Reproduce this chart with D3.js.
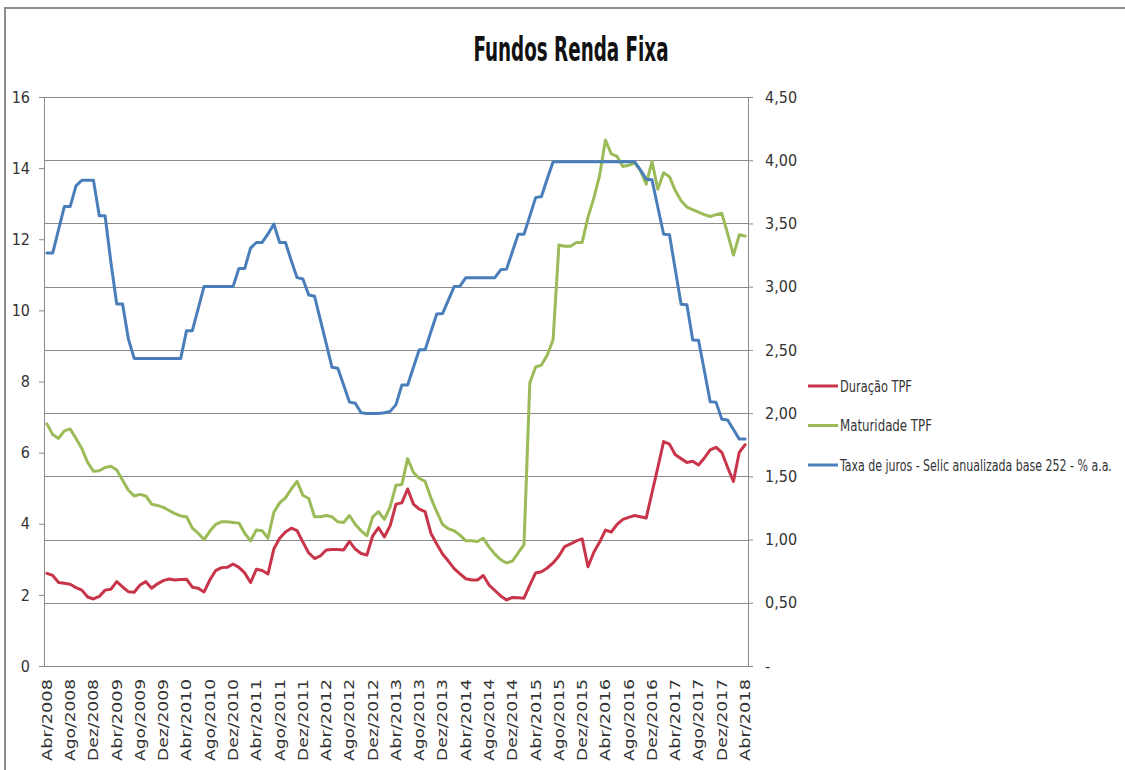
<!DOCTYPE html>
<html>
<head>
<meta charset="utf-8">
<script src="https://cdn.jsdelivr.net/npm/d3@7"></script>
<style>
  body { margin: 0; background: #fff; }
  svg { display: block; }
</style>
</head>
<body>
<svg id="chart" width="1125" height="770"></svg>
<script>
// Fundos Renda Fixa - valores mensais Abr/2008 .. Abr/2018

const monthNames = ["Jan", "Fev", "Mar", "Abr", "Mai", "Jun", "Jul", "Ago", "Set", "Out", "Nov", "Dez"];
const startYear = 2008, startMonth = 3, nMonths = 121;

// Taxa de juros - Selic anualizada base 252 (eixo esquerdo, % a.a.)
const selic = [
  11.61, 11.61, 12.27, 12.92, 12.92, 13.50, 13.66, 13.66, 13.66, 12.66,
  12.66, 11.35, 10.18, 10.18, 9.20, 8.65, 8.65, 8.65, 8.65, 8.65,
  8.65, 8.65, 8.65, 8.65, 9.43, 9.43, 10.05, 10.67, 10.67, 10.67,
  10.67, 10.67, 10.67, 11.18, 11.18, 11.75, 11.91, 11.91, 12.15, 12.43,
  11.91, 11.91, 11.40, 10.92, 10.88, 10.43, 10.40, 9.73, 9.07, 8.40,
  8.37, 7.90, 7.42, 7.39, 7.12, 7.10, 7.10, 7.10, 7.12, 7.16,
  7.35, 7.90, 7.90, 8.40, 8.89, 8.89, 9.40, 9.90, 9.91, 10.29,
  10.67, 10.68, 10.92, 10.92, 10.92, 10.92, 10.92, 10.92, 11.14, 11.16,
  11.65, 12.14, 12.14, 12.65, 13.17, 13.20, 13.70, 14.18, 14.18, 14.18,
  14.18, 14.18, 14.18, 14.18, 14.18, 14.18, 14.18, 14.18, 14.18, 14.18,
  14.18, 14.18, 13.95, 13.69, 13.67, 12.90, 12.14, 12.13, 11.15, 10.17,
  10.16, 9.17, 9.16, 8.30, 7.43, 7.42, 6.94, 6.92, 6.65, 6.38,
  6.38
];

// Maturidade TPF (eixo direito)
const maturidade = [
  1.915, 1.83, 1.80, 1.86, 1.875, 1.80, 1.72, 1.61, 1.54, 1.545,
  1.57, 1.58, 1.55, 1.47, 1.39, 1.345, 1.357, 1.345, 1.28, 1.27,
  1.255, 1.23, 1.205, 1.187, 1.18, 1.09, 1.05, 1.00, 1.065, 1.12,
  1.14, 1.14, 1.135, 1.13, 1.05, 0.99, 1.075, 1.07, 1.01, 1.215,
  1.29, 1.33, 1.40, 1.46, 1.35, 1.325, 1.18, 1.18, 1.19, 1.18,
  1.14, 1.135, 1.19, 1.12, 1.07, 1.03, 1.18, 1.22, 1.16, 1.26,
  1.43, 1.435, 1.64, 1.53, 1.485, 1.46, 1.33, 1.22, 1.12, 1.085,
  1.07, 1.035, 0.99, 0.99, 0.985, 1.01, 0.94, 0.885, 0.84, 0.815,
  0.83, 0.895, 0.96, 2.24, 2.365, 2.38, 2.46, 2.58, 3.33, 3.32,
  3.32, 3.35, 3.35, 3.55, 3.70, 3.88, 4.16, 4.05, 4.03, 3.95,
  3.96, 3.98, 3.92, 3.81, 3.99, 3.77, 3.90, 3.87, 3.76, 3.68,
  3.63, 3.61, 3.59, 3.57, 3.555, 3.57, 3.58, 3.42, 3.25, 3.41,
  3.40
];

// Duração TPF (eixo direito)
const duracao = [
  0.733, 0.716, 0.66, 0.654, 0.646, 0.62, 0.60, 0.546, 0.53, 0.55,
  0.60, 0.607, 0.667, 0.625, 0.588, 0.583, 0.64, 0.667, 0.615, 0.65,
  0.675, 0.688, 0.68, 0.684, 0.686, 0.623, 0.615, 0.585, 0.68, 0.755,
  0.778, 0.78, 0.807, 0.78, 0.736, 0.66, 0.765, 0.755, 0.728, 0.925,
  1.01, 1.06, 1.09, 1.07, 0.98, 0.894, 0.85, 0.87, 0.918, 0.922,
  0.922, 0.918, 0.985, 0.925, 0.89, 0.878, 1.03, 1.094, 1.02, 1.11,
  1.28, 1.29, 1.40, 1.28, 1.24, 1.22, 1.05, 0.965, 0.886, 0.83,
  0.77, 0.728, 0.69, 0.68, 0.68, 0.716, 0.64, 0.597, 0.554, 0.522,
  0.542, 0.54, 0.536, 0.64, 0.736, 0.746, 0.775, 0.815, 0.87, 0.945,
  0.965, 0.99, 1.005, 0.785, 0.90, 0.98, 1.075, 1.06, 1.12, 1.16,
  1.175, 1.19, 1.18, 1.17, 1.37, 1.57, 1.775, 1.755, 1.67, 1.64,
  1.61, 1.62, 1.59, 1.645, 1.71, 1.73, 1.69, 1.57, 1.46, 1.69,
  1.75
];

const leftTicks = [0, 2, 4, 6, 8, 10, 12, 14, 16];
const rightTicks = [0, 0.5, 1, 1.5, 2, 2.5, 3, 3.5, 4, 4.5];

const seriesInfo = [
  { name: "Duração TPF", values: duracao, axis: "right", color: "#C8354B", legendWidth: 72 },
  { name: "Maturidade TPF", values: maturidade, axis: "right", color: "#9BBB59", legendWidth: 92 },
  { name: "Taxa de juros - Selic anualizada base 252 - % a.a.", values: selic, axis: "left", color: "#4A7EBB", legendWidth: 272 }
];

// categorias mensais
const months = [];
for (let k = 0; k < nMonths; k++) {
  const m = (startMonth + k) % 12;
  const y = startYear + Math.floor((startMonth + k) / 12);
  months.push(monthNames[m] + "/" + y);
}

const svg = d3.select("#chart");
const plot = { left: 44, right: 748, top: 97, bottom: 666 };
const gridColor = "#8a8a8a";
const narrow = "'Liberation Sans Narrow', 'DejaVu Sans Condensed', 'Liberation Sans', sans-serif";

// encolhe o texto na horizontal ate a largura desejada
function squeeze(sel, x0, y0, width) {
  sel.each(function() {
    const w = this.getComputedTextLength();
    const k = w > width ? width / w : 1;
    d3.select(this).attr("transform", `translate(${x0},${y0}) scale(${k},1)`);
  });
}

// moldura externa
svg.append("path")
  .attr("d", "M5,770 V8 H1125")
  .attr("fill", "none")
  .attr("stroke", "#8c8c8c")
  .attr("stroke-width", 2);

const x = d3.scaleBand().domain(months).range([plot.left, plot.right]);
const xc = d => x(d) + x.bandwidth() / 2;
const yL = d3.scaleLinear().domain([0, 16]).range([plot.bottom, plot.top]);
const yR = d3.scaleLinear().domain([0, 4.5]).range([plot.bottom, plot.top]);

// linhas de grade (eixo secundario)
svg.append("g")
  .selectAll("line")
  .data(rightTicks.filter(d => d > 0))
  .enter()
  .append("line")
  .attr("x1", plot.left)
  .attr("x2", plot.right)
  .attr("y1", d => Math.round(yR(d)) + 0.5)
  .attr("y2", d => Math.round(yR(d)) + 0.5)
  .attr("stroke", gridColor)
  .attr("stroke-width", 1);

// eixo esquerdo
const axL = svg.append("g")
  .attr("transform", `translate(${plot.left},0)`)
  .call(d3.axisLeft(yL).tickValues(leftTicks).tickSize(5).tickPadding(9).tickFormat(d3.format("d")));

// eixo direito
const axR = svg.append("g")
  .attr("transform", `translate(${plot.right},0)`)
  .call(d3.axisRight(yR).tickValues(rightTicks).tickSize(5).tickPadding(12)
    .tickFormat(d => d === 0 ? "-" : d3.format(".2f")(d).replace(".", ",")));

[axL, axR].forEach(ax => {
  ax.select(".domain").attr("stroke", gridColor);
  ax.selectAll(".tick line").attr("stroke", gridColor);
  ax.selectAll("text")
    .attr("fill", "#333")
    .style("font-family", narrow)
    .style("font-size", "16px");
});

// eixo horizontal
svg.append("line")
  .attr("x1", plot.left).attr("x2", plot.right)
  .attr("y1", plot.bottom + 0.5).attr("y2", plot.bottom + 0.5)
  .attr("stroke", gridColor);

// rotulos do eixo x (a cada 4 meses)
svg.append("g")
  .selectAll("text")
  .data(months.filter((d, i) => i % 4 === 0))
  .enter()
  .append("text")
  .attr("transform", d => `translate(${xc(d)},${plot.bottom + 13}) rotate(-90)`)
  .attr("dy", "0.35em")
  .attr("text-anchor", "end")
  .attr("textLength", 82)
  .attr("lengthAdjust", "spacingAndGlyphs")
  .attr("fill", "#333")
  .style("font-family", "'DejaVu Sans', sans-serif")
  .style("font-size", "14px")
  .text(d => d);

// series
seriesInfo.forEach(s => {
  const yS = s.axis === "left" ? yL : yR;
  const line = d3.line()
    .x((d, i) => xc(months[i]))
    .y(d => yS(d));
  svg.append("path")
    .datum(s.values)
    .attr("fill", "none")
    .attr("stroke", s.color)
    .attr("stroke-width", 3)
    .attr("stroke-linejoin", "round")
    .attr("stroke-linecap", "round")
    .attr("d", line);
});

// titulo
svg.append("text")
  .attr("x", 571)
  .attr("y", 61)
  .attr("text-anchor", "middle")
  .attr("textLength", 195)
  .attr("lengthAdjust", "spacingAndGlyphs")
  .attr("font-weight", "bold")
  .attr("fill", "#111")
  .style("font-family", narrow)
  .style("font-size", "33px")
  .text("Fundos Renda Fixa");

// legenda
const legend = svg.append("g").attr("transform", "translate(808,386)");
seriesInfo.forEach((s, i) => {
  const row = legend.append("g").attr("transform", `translate(0,${i * 39.5})`);
  row.append("line")
    .attr("x1", 0).attr("x2", 30)
    .attr("y1", 0).attr("y2", 0)
    .attr("stroke", s.color)
    .attr("stroke-width", 3);
  row.append("text")
    .attr("dy", "0.35em")
    .attr("fill", "#333")
    .style("font-family", narrow)
    .style("font-size", "16px")
    .text(s.name)
    .call(squeeze, 32, 0, s.legendWidth);
});
</script>
</body>
</html>
